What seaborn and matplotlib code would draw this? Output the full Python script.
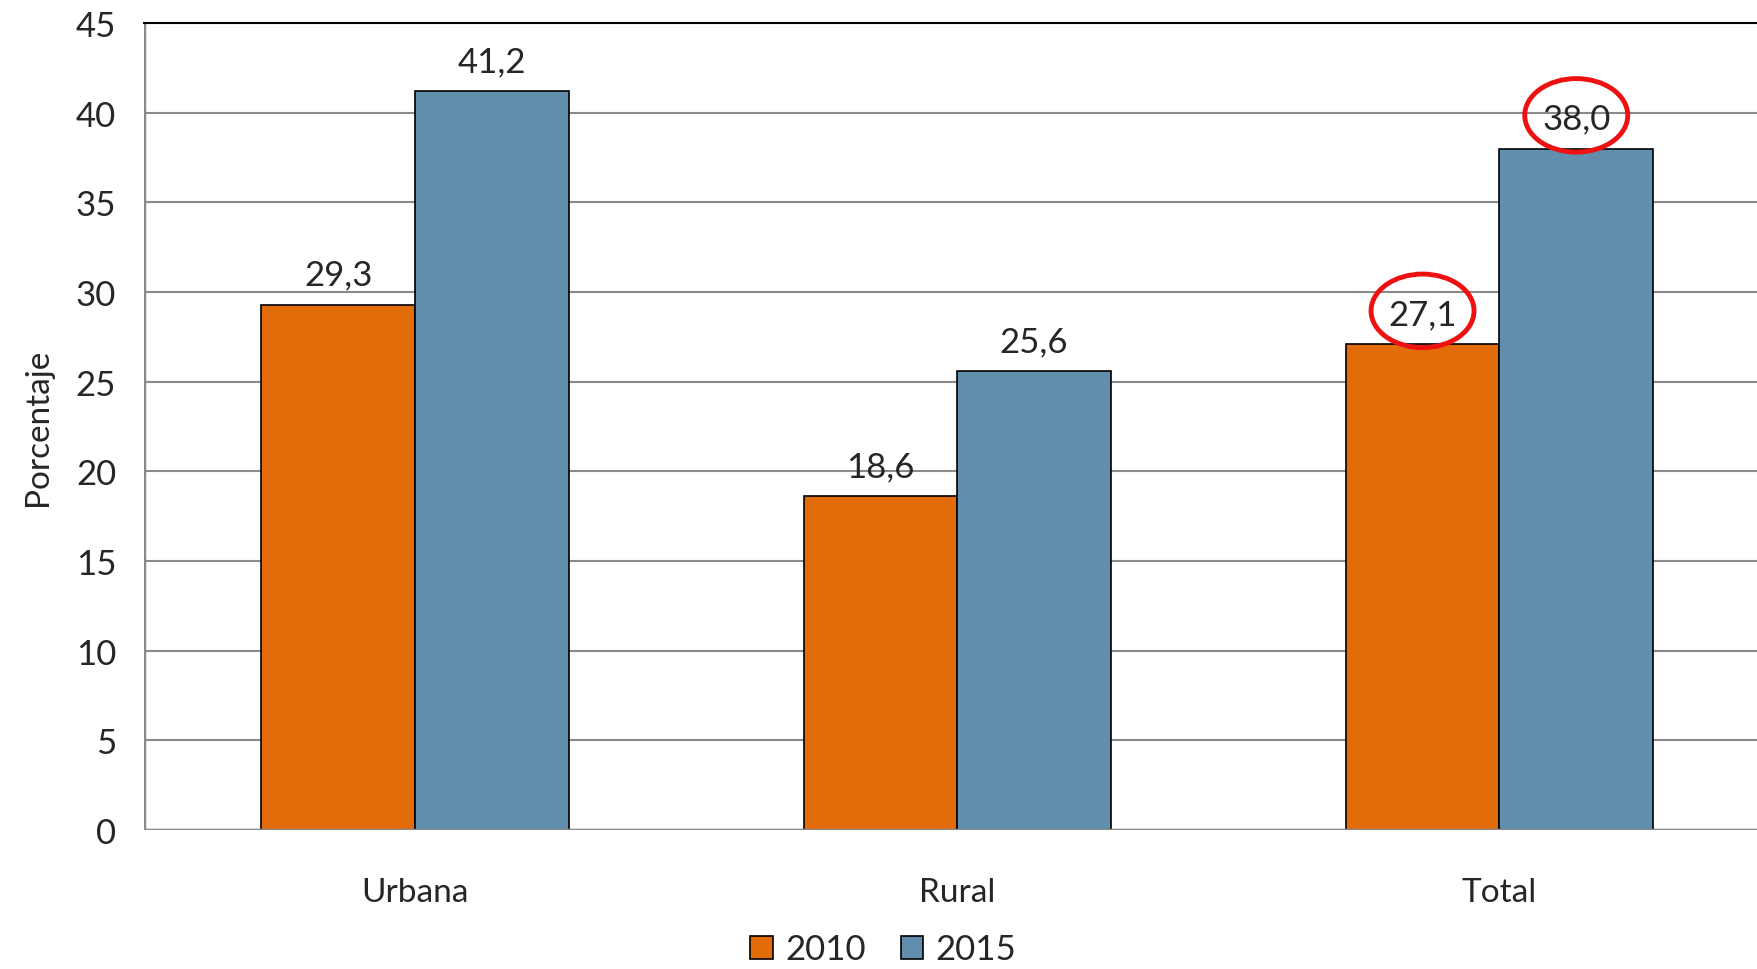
import pandas as pd
import matplotlib.pyplot as plt
import seaborn as sns
from matplotlib.patches import Ellipse

# Data
zonas = ["Urbana", "Rural", "Total"]
anios = ["2010", "2015"]
valores_2010 = [29.3, 18.6, 27.1]
valores_2015 = [41.2, 25.6, 38.0]
colores = ["#E36C0A", "#628EAD"]

df = pd.DataFrame({
    "Zona": zonas * 2,
    "Año": [anios[0]] * 3 + [anios[1]] * 3,
    "Porcentaje": valores_2010 + valores_2015,
})

sns.set_style("white")
plt.rcParams["font.family"] = ["Lato", "DejaVu Sans"]

fig = plt.figure(figsize=(17.58, 9.70), dpi=100)
ax = fig.add_axes([144 / 1758, 1 - 831 / 970, 1 - 144 / 1758, 807 / 970])

sns.barplot(data=df, x="Zona", y="Porcentaje", hue="Año", palette=colores,
            width=0.567, edgecolor="black", linewidth=1.2, saturation=1, ax=ax)

ax.set_ylim(0, 45)
ax.set_xlim(-0.5, 2.477)
ax.set_yticks(range(0, 46, 5))
ax.yaxis.grid(True, color="#8a8a8a", linewidth=1.5)
ax.set_axisbelow(True)
for s in ["right", "bottom", "left"]:
    ax.spines[s].set_visible(False)
ax.spines["top"].set_color("black")
ax.spines["top"].set_linewidth(1.5)
ax.axvline(-0.5, color="#8a8a8a", linewidth=2.5)
ax.axhline(0, color="#8a8a8a", linewidth=2.5)
ax.tick_params(axis="y", length=12, color="#8a8a8a", width=1.5, labelsize=25, pad=8)
ax.tick_params(axis="x", length=0, labelsize=24, pad=34)
ax.set_xlabel("")
ax.set_ylabel("Porcentaje", fontsize=24, labelpad=16)

# Value labels
for cont in ax.containers:
    labels = [f"{b.get_height():.1f}".replace(".", ",") for b in cont]
    ax.bar_label(cont, labels=labels, fontsize=25, padding=10)

# Red highlight around the Total values
bars_total = [ax.containers[0][2], ax.containers[1][2]]
for b in bars_total:
    cx = b.get_x() + b.get_width() / 2
    cy = b.get_height() + 1.85
    ax.add_patch(Ellipse((cx, cy), 0.19, 4.1, fill=False, edgecolor="#EE1111",
                         linewidth=3.5, clip_on=False, zorder=5))

leg = ax.legend(loc="center", bbox_to_anchor=(0.458, -0.148), ncol=2, frameon=False,
                fontsize=25, handlelength=0.65, handleheight=0.65, handletextpad=0.35,
                columnspacing=1.0, borderpad=0.2)
for h in leg.legend_handles:
    h.set_edgecolor("black")

plt.savefig("out.png", dpi=100)
